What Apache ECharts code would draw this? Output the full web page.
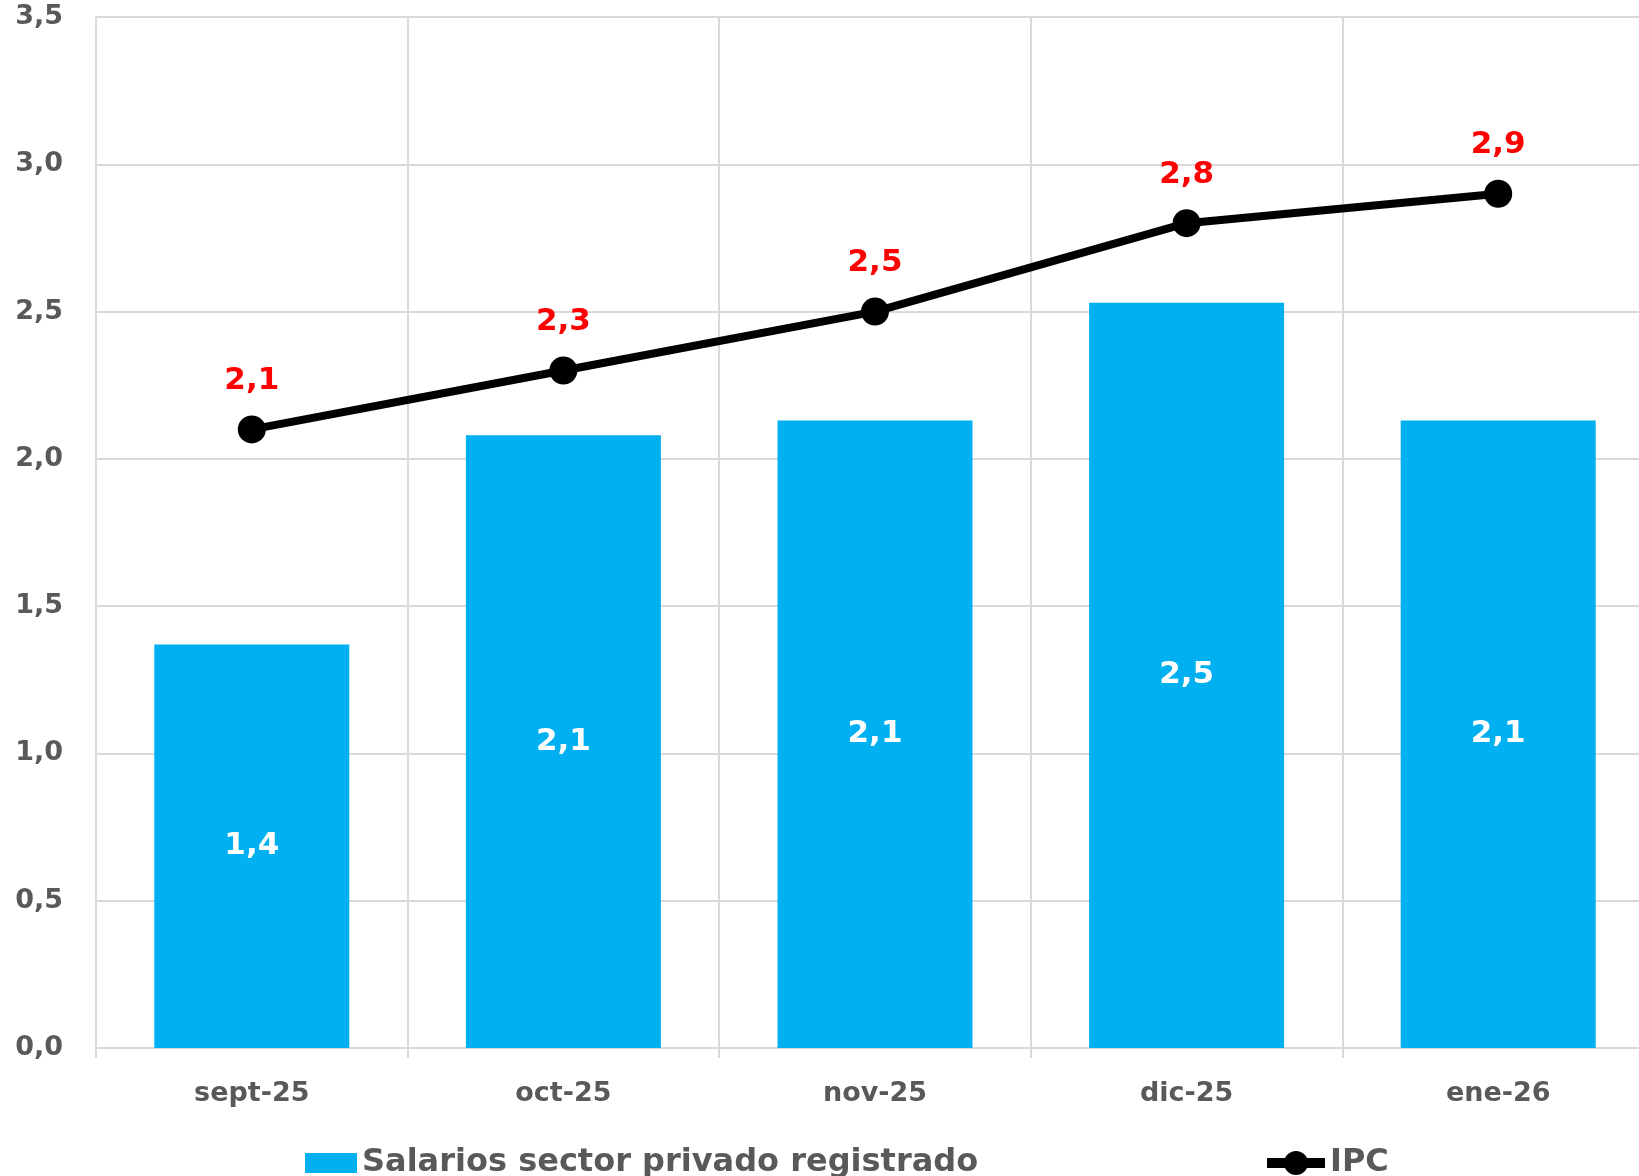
<!DOCTYPE html>
<html>
<head>
<meta charset="utf-8">
<script src="https://cdn.jsdelivr.net/npm/echarts@6/dist/echarts.min.js"></script>
<style>
html,body{margin:0;padding:0;background:#fff;overflow:hidden;width:1639px;height:1176px;}
#chart{width:1660px;height:1176px;}
</style>
</head>
<body>
<div id="chart"></div>
<script>
const categories = ['sept-25', 'oct-25', 'nov-25', 'dic-25', 'ene-26'];
const salarios = [1.37, 2.08, 2.13, 2.53, 2.13];
const ipc = [2.1, 2.3, 2.5, 2.8, 2.9];
const seriesNames = ['Salarios sector privado registrado', 'IPC'];
const yTicks = { min: 0, max: 3.5, interval: 0.5 };

const FONT = 'DejaVu Sans';
const fmt = v => Number(v).toFixed(1).replace('.', ',');

const chart = echarts.init(document.getElementById('chart'), null, { renderer: 'canvas' });
chart.setOption({
  animation: false,
  backgroundColor: '#ffffff',
  grid: { left: 96, top: 17, width: 1558, height: 1031, containLabel: false },
  legend: [
    {
      data: [{ name: seriesNames[0], icon: 'rect' }],
      left: 300, top: 1140,
      itemWidth: 52, itemHeight: 20,
      itemGap: 0,
      textStyle: { fontFamily: FONT, fontWeight: 'bold', fontSize: 32, color: '#595959', lineHeight: 36 }
    },
    {
      data: [seriesNames[1]],
      left: 1257, top: 1138,
      itemWidth: 58, itemHeight: 30,
      lineStyle: { width: 10, color: '#000000' },
      textStyle: { fontFamily: FONT, fontWeight: 'bold', fontSize: 32, color: '#595959', lineHeight: 40 }
    }
  ],
  xAxis: {
    type: 'category',
    data: categories,
    boundaryGap: true,
    axisLine: { show: true, lineStyle: { color: '#D9D9D9', width: 2 } },
    axisTick: { show: true, length: 10, lineStyle: { color: '#D9D9D9', width: 2 } },
    splitLine: { show: true, lineStyle: { color: '#D9D9D9', width: 2 } },
    axisLabel: { fontFamily: FONT, fontWeight: 'bold', fontSize: 27, color: '#595959', margin: 32 }
  },
  yAxis: {
    type: 'value',
    min: yTicks.min, max: yTicks.max, interval: yTicks.interval,
    axisLine: { show: true, lineStyle: { color: '#D9D9D9', width: 2 } },
    axisTick: { show: false },
    splitLine: { show: true, lineStyle: { color: '#D9D9D9', width: 2 } },
    axisLabel: { fontFamily: FONT, fontWeight: 'bold', fontSize: 27, color: '#595959', margin: 33, formatter: fmt }
  },
  series: [
    {
      name: seriesNames[0],
      type: 'bar',
      data: salarios,
      barWidth: 195,
      itemStyle: { color: '#00B0F0' },
      label: {
        show: true, position: 'inside',
        fontFamily: FONT, fontWeight: 'bold', fontSize: 31, color: '#ffffff',
        formatter: p => fmt(p.value)
      },
      z: 2
    },
    {
      name: seriesNames[1],
      type: 'line',
      data: ipc,
      symbol: 'circle',
      symbolSize: 28,
      itemStyle: { color: '#000000' },
      lineStyle: { color: '#000000', width: 8 },
      label: {
        show: true, position: 'top', distance: 19,
        fontFamily: FONT, fontWeight: 'bold', fontSize: 31, color: '#FF0000',
        formatter: p => fmt(p.value)
      },
      z: 5
    }
  ]
});
</script>
</body>
</html>
